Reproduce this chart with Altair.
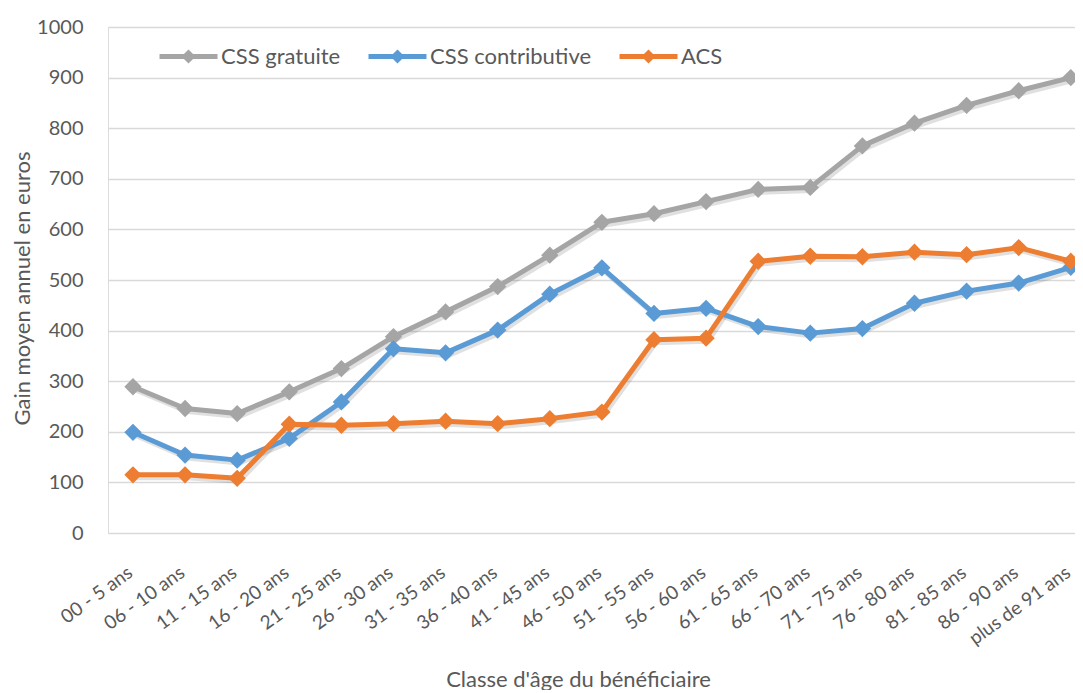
import altair as alt
import pandas as pd

categories = ["00 - 5 ans", "06 - 10 ans", "11 - 15 ans", "16 - 20 ans", "21 - 25 ans",
              "26 - 30 ans", "31 - 35 ans", "36 - 40 ans", "41 - 45 ans", "46 - 50 ans",
              "51 - 55 ans", "56 - 60 ans", "61 - 65 ans", "66 - 70 ans", "71 - 75 ans",
              "76 - 80 ans", "81 - 85 ans", "86 - 90 ans", "plus de 91 ans"]
series_names = ["CSS gratuite", "CSS contributive", "ACS"]
css_gratuite = [289, 246, 236, 279, 325, 388, 437, 487, 549, 614, 631, 655, 679, 683, 765, 810, 845, 874, 900]
css_contributive = [199, 154, 144, 187, 259, 364, 356, 401, 472, 524, 434, 444, 408, 395, 404, 454, 478, 494, 525]
acs = [115, 115, 108, 215, 213, 216, 221, 216, 226, 239, 382, 385, 537, 547, 546, 555, 550, 564, 537]
colors = ["#A5A5A5", "#5B9BD5", "#ED7D31"]
y_ticks = list(range(0, 1001, 100))

rows = []
for name, vals in zip(series_names, [css_gratuite, css_contributive, acs]):
    for c, v in zip(categories, vals):
        rows.append({"classe": c, "serie": name, "gain": v})
df = pd.DataFrame(rows)

FONT = "Lato"
TXT = "#595959"

x_enc = alt.X(
    "classe:N", sort=categories,
    scale=alt.Scale(type="point", padding=0.28, align=0.856),
    axis=alt.Axis(title="Classe d'âge du bénéficiaire", labelAngle=-36, labelAlign="right",
                  labelBaseline="middle", labelFontSize=19, labelOffset=-3,
                  labelColor=TXT, labelFont=FONT, labelPadding=37, domain=False, ticks=False,
                  grid=False, titleFont=FONT, titleFontSize=22, titleColor=TXT,
                  titleFontWeight="normal", titleX=470, titleY=146, titleAlign="center",
                  titleBaseline="middle", labelOverlap=False, labelLimit=0),
)
y_enc = alt.Y(
    "gain:Q",
    scale=alt.Scale(domain=[0, 1000], nice=False),
    axis=alt.Axis(values=y_ticks, format="d", title="Gain moyen annuel en euros", grid=True,
                  gridColor="#D9D9D9", gridWidth=1.4, domain=False, ticks=False,
                  labelPadding=25, labelFontSize=20, labelColor=TXT, labelFont=FONT,
                  titleFont=FONT, titleFontSize=22, titleColor=TXT, titleFontWeight="normal",
                  titleAngle=-90, titleX=-86, titleY=261, titleAlign="center",
                  titleBaseline="middle"),
)

base = alt.Chart(df)

shadow = base.mark_line(strokeWidth=5, color="black", opacity=0.12, xOffset=2, yOffset=3,
                        strokeJoin="round", strokeCap="round").encode(
    x=x_enc, y=y_enc, detail="serie:N")

lines = base.mark_line(
    strokeWidth=5, strokeJoin="round", strokeCap="round",
    point=alt.OverlayMarkDef(shape="diamond", size=300, filled=True, opacity=1),
).encode(
    x=x_enc, y=y_enc,
    color=alt.Color("serie:N", sort=series_names,
                    scale=alt.Scale(domain=series_names, range=colors),
                    legend=alt.Legend(title=None, orient="none", legendX=49, legendY=-2,
                                      direction="horizontal",
                                      symbolType="M-1,0H1M0,-0.12L0.12,0L0,0.12L-0.12,0Z",
                                      symbolSize=3364, symbolStrokeWidth=5,
                                      labelFontSize=22, labelColor=TXT, labelFont=FONT,
                                      labelOffset=1, columnPadding=17, labelLimit=0)),
)

chart = alt.layer(shadow, lines).properties(
    width=967, height=506,
    autosize=alt.AutoSizeParams(type="none"),
    padding={"left": 100, "top": 19, "right": 0, "bottom": 157},
).configure_view(stroke=None).configure(background="white")

chart.save("out.html", embed_options={"renderer": "svg", "actions": False})
